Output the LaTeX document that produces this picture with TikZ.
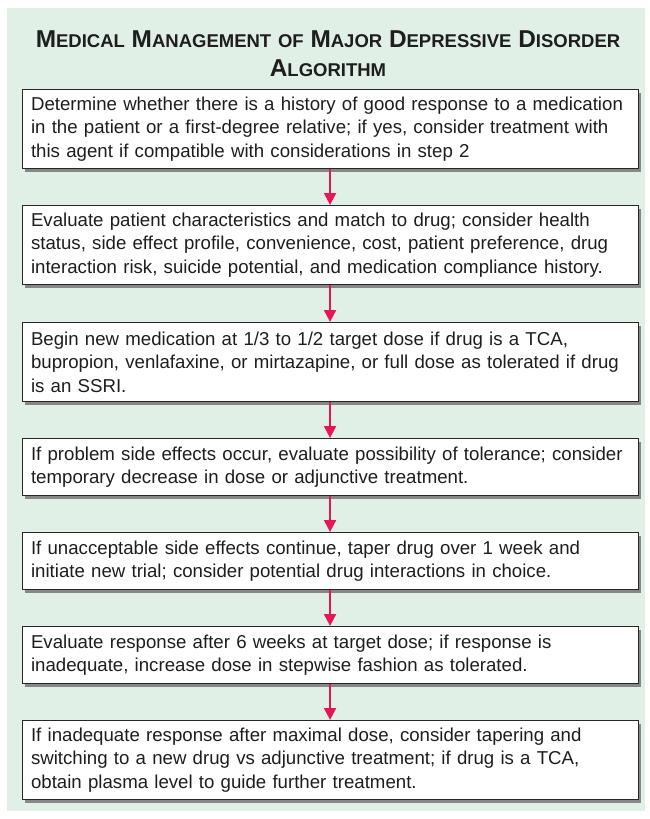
\documentclass[tikz,border=0pt]{standalone}
\usepackage{fontspec}
\setmainfont{Liberation Sans}
\usetikzlibrary{arrows.meta,shadows}
\definecolor{bgc}{RGB}{225,240,230}
\definecolor{arr}{RGB}{232,22,88}
\definecolor{bord}{RGB}{40,40,40}
\definecolor{shad}{RGB}{135,135,135}
\definecolor{txt}{RGB}{30,30,30}
\newcommand\TSC[2]{{\fontsize{24.4}{29}\selectfont #1}{\fontsize{18.5}{29}\selectfont #2}}
\tikzset{
  stepbox/.style={draw=bord, line width=1.1pt, fill=white,
    minimum width=616pt, text width=598pt, align=left,
    inner xsep=9pt, inner ysep=4pt, anchor=north west,
    font=\fontsize{18.65}{23.5}\selectfont, text=txt,
    drop shadow={shadow xshift=3pt, shadow yshift=-3pt, opacity=1, fill=shad}},
  tall/.style={minimum height=79pt},
  short/.style={minimum height=57pt},
  flow/.style={draw=arr, line width=2pt, -{Triangle[length=12pt,width=12pt]}}
}
\begin{document}
\begin{tikzpicture}[x=1pt,y=-1pt]
\useasboundingbox (0,0) rectangle (650,819);
\fill[white] (0,0) rectangle (650,819);
\fill[bgc] (7,8) rectangle (645,811);
\node[font=\fontsize{24.4}{29}\selectfont\bfseries, align=center, text=txt] (title) at (328,54)
  {\TSC{M}{EDICAL} \TSC{M}{ANAGEMENT} \TSC{}{OF} \TSC{M}{AJOR} \TSC{D}{EPRESSIVE} \TSC{D}{ISORDER}\\ \TSC{A}{LGORITHM}};
\node[stepbox, tall] (s1) at (21.5,89) {Determine whether there is a history of good response to a medication\\ in the patient or a first-degree relative; if yes, consider treatment with\\ this agent if compatible with considerations in step 2};
\node[stepbox, tall] (s2) at (21.5,205) {Evaluate patient characteristics and match to drug; consider health\\ status, side effect profile, convenience, cost, patient preference, drug\\ interaction risk, suicide potential, and medication compliance history.};
\node[stepbox, tall] (s3) at (21.5,322) {Begin new medication at 1/3 to 1/2 target dose if drug is a TCA,\\ bupropion, venlafaxine, or mirtazapine, or full dose as tolerated if drug\\ is an SSRI.};
\node[stepbox, short] (s4) at (21.5,438) {If problem side effects occur, evaluate possibility of tolerance; consider\\ temporary decrease in dose or adjunctive treatment.};
\node[stepbox, short] (s5) at (21.5,532) {If unacceptable side effects continue, taper drug over 1 week and\\ initiate new trial; consider potential drug interactions in choice.};
\node[stepbox, short] (s6) at (21.5,626) {Evaluate response after 6 weeks at target dose; if response is\\ inadequate, increase dose in stepwise fashion as tolerated.};
\node[stepbox, tall] (s7) at (21.5,720) {If inadequate response after maximal dose, consider tapering and\\ switching to a new drug vs adjunctive treatment; if drug is a TCA,\\ obtain plasma level to guide further treatment.};
\draw[flow] (s1.south) -- (s2.north);
\draw[flow] (s2.south) -- (s3.north);
\draw[flow] (s3.south) -- (s4.north);
\draw[flow] (s4.south) -- (s5.north);
\draw[flow] (s5.south) -- (s6.north);
\draw[flow] (s6.south) -- (s7.north);
\end{tikzpicture}
\end{document}
